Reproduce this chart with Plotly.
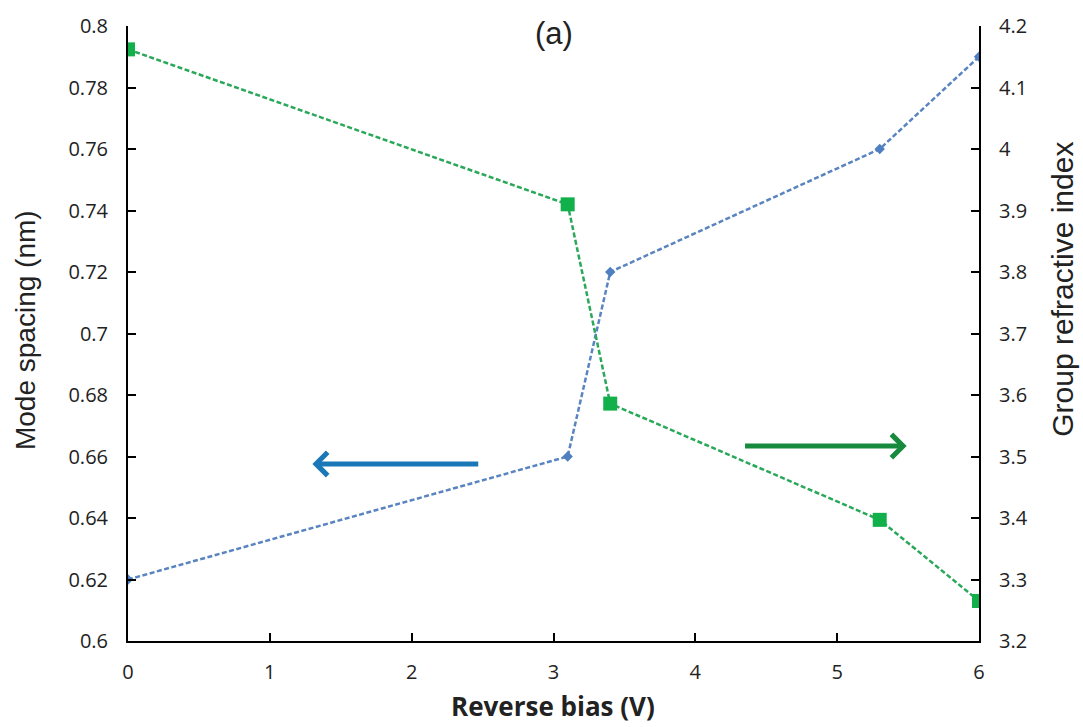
import plotly.graph_objects as go

bias = [0, 3.1, 3.4, 5.3, 6]
mode_spacing = [0.62, 0.66, 0.72, 0.76, 0.79]
group_index = [4.162, 3.91, 3.586, 3.397, 3.265]

left_ticks = [0.6, 0.62, 0.64, 0.66, 0.68, 0.7, 0.72, 0.74, 0.76, 0.78, 0.8]
left_labels = ["0.6", "0.62", "0.64", "0.66", "0.68", "0.7", "0.72", "0.74", "0.76", "0.78", "0.8"]
right_ticks = [3.2, 3.3, 3.4, 3.5, 3.6, 3.7, 3.8, 3.9, 4.0, 4.1, 4.2]
right_labels = ["3.2", "3.3", "3.4", "3.5", "3.6", "3.7", "3.8", "3.9", "4", "4.1", "4.2"]
x_ticks = [0, 1, 2, 3, 4, 5, 6]

fig = go.Figure()
fig.add_trace(go.Scatter(
    x=bias, y=mode_spacing, mode="lines+markers",
    line=dict(color="#5a84c0", width=2.5, dash="5px,2.5px"),
    marker=dict(symbol="diamond", size=8, color="#4f7fc0"),
    name="Mode spacing", yaxis="y"))
fig.add_trace(go.Scatter(
    x=bias, y=group_index, mode="lines+markers",
    line=dict(color="#2aa85a", width=2.5, dash="5px,2.5px"),
    marker=dict(symbol="square", size=14, color="#12b04a"),
    name="Group refractive index", yaxis="y2"))

tickfont = dict(family="Open Sans, Liberation Sans, Arial", size=20, color="#222")
axis_common = dict(showline=True, linecolor="black", linewidth=2, ticks="inside", ticklen=8,
                   tickwidth=2, tickcolor="black", showgrid=False, zeroline=False,
                   tickfont=tickfont)
fig.update_layout(
    width=1083, height=727,
    margin=dict(l=128, r=104, t=16, b=86),
    paper_bgcolor="white", plot_bgcolor="white",
    showlegend=False,
    xaxis=dict(range=[0, 6], tickvals=x_ticks, ticklabelstandoff=12, **axis_common),
    yaxis=dict(range=[0.6, 0.8], tickvals=left_ticks, ticktext=left_labels,
               ticklabelstandoff=14, **axis_common),
    yaxis2=dict(range=[3.2, 4.2], tickvals=right_ticks, ticktext=right_labels, overlaying="y",
                side="right", ticklabelstandoff=14, **axis_common),
    annotations=[
        dict(x=1.3, y=0.6576, ax=2.48, ay=0.6576, xref="x", yref="y", axref="x", ayref="y",
             showarrow=True, arrowhead=4, arrowsize=0.9, arrowwidth=5, arrowcolor="#1a78b8", text=""),
        dict(x=5.49, y=0.6634, ax=4.34, ay=0.6634, xref="x", yref="y", axref="x", ayref="y",
             showarrow=True, arrowhead=4, arrowsize=0.9, arrowwidth=5, arrowcolor="#188a3e", text=""),
        dict(x=3.0, y=0.7975, xref="x", yref="y", text="(a)", showarrow=False,
             font=dict(family="Liberation Sans, Arial", size=31, color="#222")),
        dict(x=25, y=727 - 325, xref="paper", yref="paper", text="Mode spacing (nm)",
             textangle=-90, showarrow=False, xanchor="center", yanchor="middle",
             font=dict(family="Liberation Sans, Arial", size=28, color="#222")),
        dict(x=1063, y=727 - 284, xref="paper", yref="paper", text="Group refractive index",
             textangle=-90, showarrow=False, xanchor="center", yanchor="middle",
             font=dict(family="Liberation Sans, Arial", size=30, color="#222")),
        dict(x=553, y=727 - 707, xref="paper", yref="paper", text="<b>Reverse bias (V)</b>",
             showarrow=False, xanchor="center", yanchor="middle",
             font=dict(family="Open Sans, Liberation Sans, Arial", size=26, color="#222")),
    ],
)

# convert the pixel-placed titles to paper fractions
plot_w = 1083 - 128 - 104
plot_h = 727 - 16 - 86
for ann in fig.layout.annotations[3:]:
    ann.x = (ann.x - 128) / plot_w
    ann.y = (ann.y - 86) / plot_h

fig.write_html("out.html")
